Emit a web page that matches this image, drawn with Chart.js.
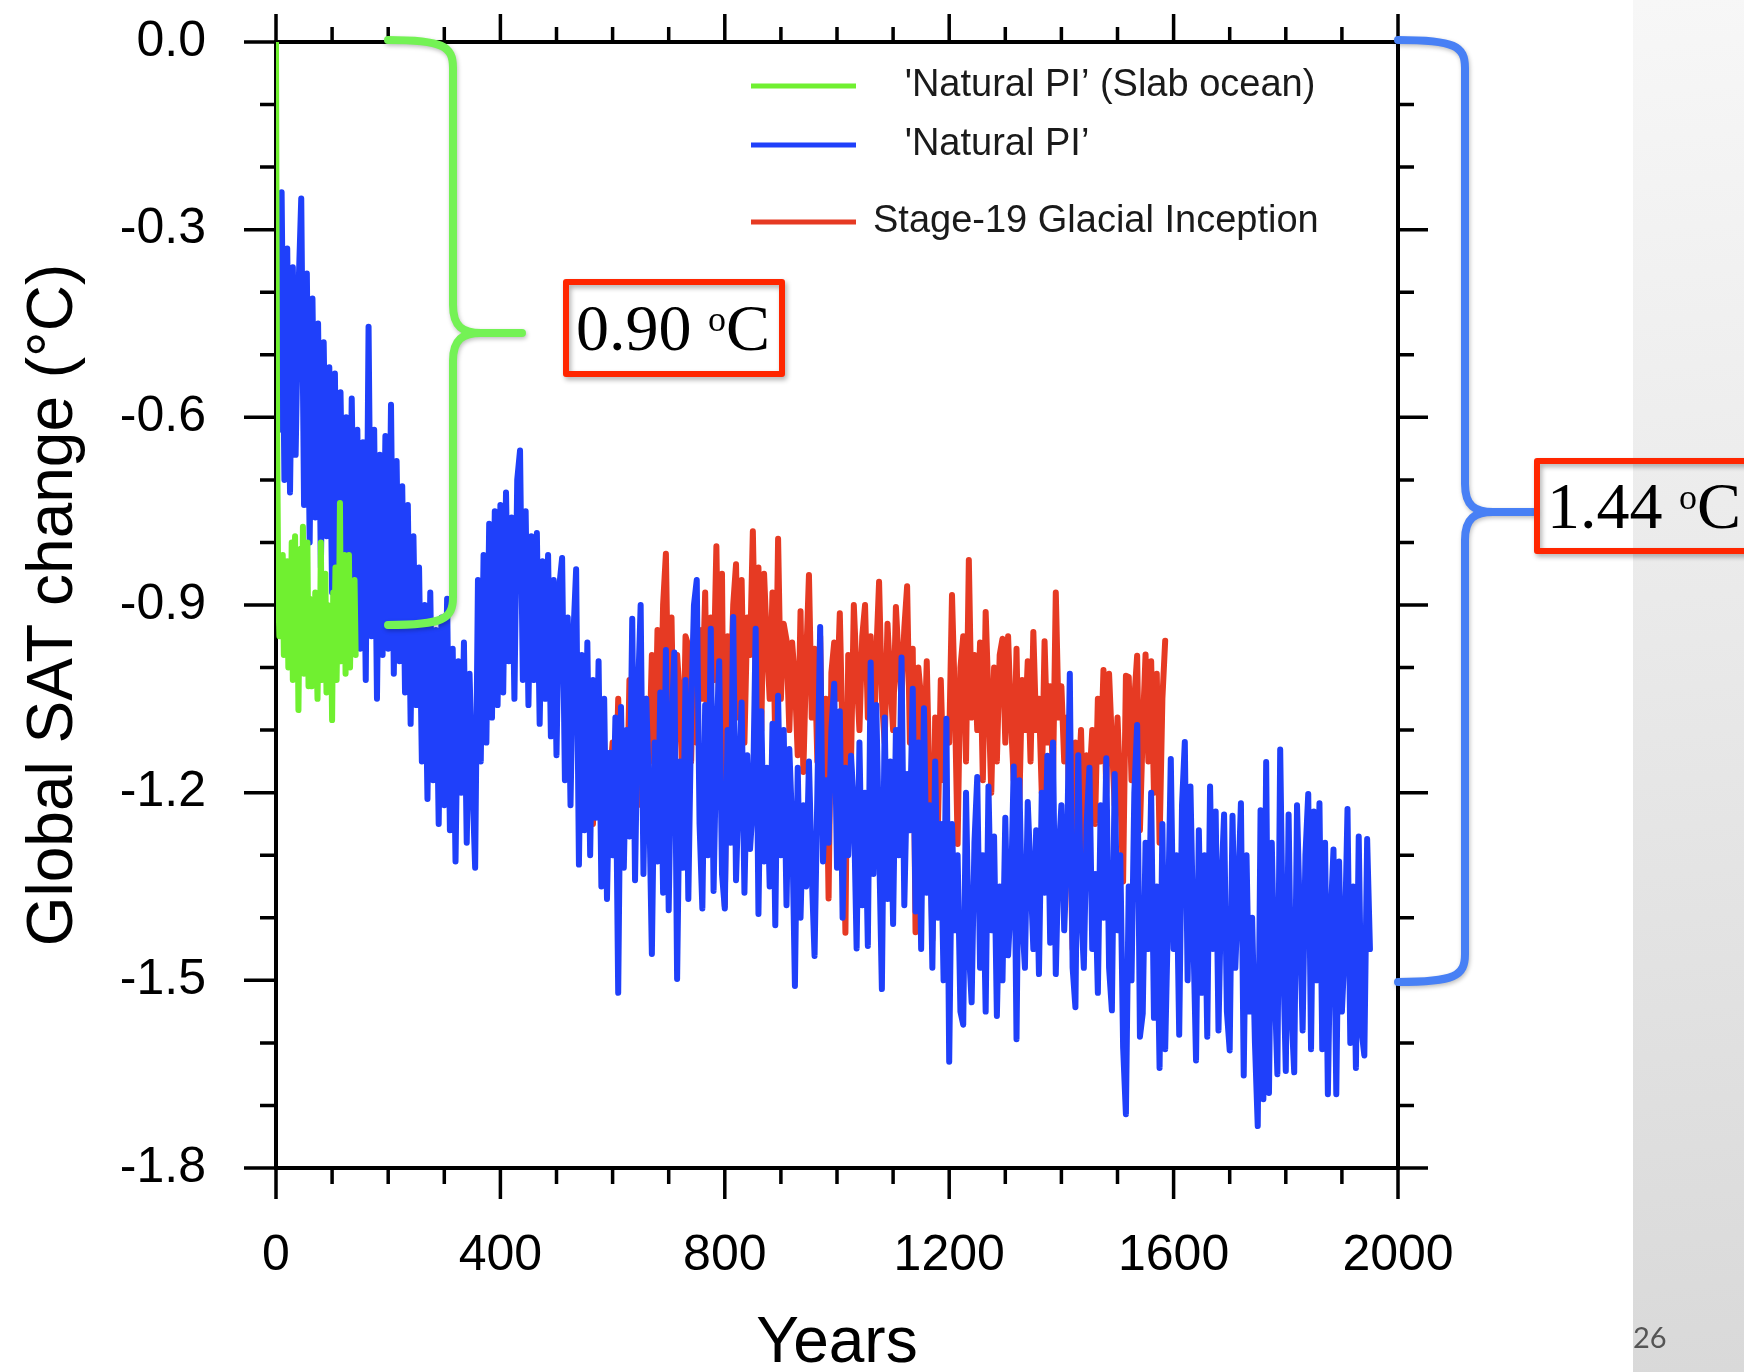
<!DOCTYPE html>
<html>
<head>
<meta charset="utf-8">
<title>Global SAT change</title>
<script src="https://cdn.jsdelivr.net/npm/chart.js@4.4.1/dist/chart.umd.min.js"></script>
<style>
  html, body { margin: 0; padding: 0; background: #fff; }
  canvas { display: block; }
</style>
</head>
<body>
<canvas id="chart" width="1744" height="1372"></canvas>
<script>
// Series names as they appear in the legend (leading spaces kept from the original)
const seriesLabels = ["   'Natural PI’ (Slab ocean)", "   'Natural PI’", 'Stage-19 Glacial Inception'];
const seriesColors = ['#70f030', '#1f40fa', '#e63a23'];

// Axis ticks
const xTickStep = 400;
const xMinorStep = 100;
const yTickStep = 0.3;
const yMinorStep = 0.1;

// 'Natural PI' (Slab ocean): every 2 years from year 0
const GREEN_START = 0, GREEN_STEP = 2;
const greenValues = [
  0.0, -0.62, -0.88, -0.95, -0.84, -0.92, -0.82, -0.98, -0.86, -0.93,
  -0.83, -1.00, -0.88, -0.96, -0.80, -1.02, -0.87, -0.79, -0.99, -0.85,
  -1.068, -0.90, -0.81, -0.97, -0.775, -1.01, -0.86, -0.94, -0.80, -1.03,
  -0.89, -0.97, -1.03, -0.92, -1.00, -0.88, -0.96, -1.05, -0.93, -0.99,
  -0.80, -1.02, -0.91, -0.97, -0.85, -1.04, -0.90, -0.95, -1.00, -0.93,
  -1.084, -0.88, -0.98, -0.84, -1.02, -0.90, -0.95, -0.737, -0.99, -0.86,
  -0.97, -0.82, -1.01, -0.88, -0.94, -0.82, -1.00, -0.87, -0.95, -0.91,
  -0.86, -0.98
];

// 'Natural PI': every 5 years from year 0
const BLUE_START = 0, BLUE_STEP = 5;
const blueValues = [
  -0.45, -0.62, -0.24, -0.70, -0.33, -0.72, -0.36, -0.66, -0.40, -0.25,
  -0.74, -0.37, -0.80, -0.41, -0.76, -0.45, -0.84, -0.48, -0.79, -0.52,
  -0.88, -0.53, -0.91, -0.56, -0.84, -0.60, -0.93, -0.57, -0.89, -0.62,
  -0.97, -0.64, -1.02, -0.455, -0.95, -0.62, -1.05, -0.66, -0.98, -0.63,
  -0.97, -0.58, -1.01, -0.67, -0.99, -0.71, -1.04, -0.74, -1.09, -0.79,
  -1.06, -0.84, -1.15, -0.90, -1.21, -0.88, -1.18, -0.94, -1.25, -0.92,
  -1.22, -0.89, -1.26, -0.97, -1.31, -0.99, -1.20, -0.96, -1.28, -1.01,
  -1.18, -1.32, -0.86, -1.15, -0.82, -1.12, -0.77, -1.08, -0.75, -1.06,
  -0.74, -1.04, -0.72, -0.99, -0.76, -1.05, -0.70, -0.653, -1.02, -0.75,
  -1.06, -0.79, -1.02, -0.785, -1.09, -0.83, -1.05, -0.82, -1.11, -0.86,
  -1.14, -0.87, -0.825, -1.18, -0.92, -1.22, -0.95, -0.843, -1.315, -0.98,
  -1.26, -0.96, -1.30, -1.02, -1.24, -0.99, -1.35, -1.05, -1.37, -1.136,
  -1.30, -1.08, -1.52, -1.063, -1.32, -1.10, -1.27, -0.922, -1.34, -1.05,
  -0.90, -1.33, -1.05, -1.20, -1.458, -1.12, -1.31, -1.04, -1.36, -0.972,
  -1.388, -1.10, -0.976, -1.498, -1.15, -1.32, -1.02, -1.37, -1.08, -0.90,
  -0.86, -1.25, -1.385, -1.06, -1.30, -0.938, -1.357, -1.12, -0.99, -1.33,
  -1.385, -1.10, -1.28, -0.919, -1.34, -1.19, -1.056, -1.36, -1.14, -1.29,
  -1.22, -0.938, -1.394, -1.07, -1.31, -1.16, -1.35, -1.09, -1.412, -1.045,
  -1.30, -1.10, -1.38, -1.13, -1.25, -1.509, -1.16, -1.40, -1.22, -1.35,
  -1.15, -1.33, -1.461, -1.20, -0.935, -1.31, -1.18, -1.28, -1.10, -1.026,
  -1.32, -1.07, -1.40, -1.16, -1.30, -1.141, -1.22, -1.449, -1.12, -1.38,
  -1.20, -1.445, -0.992, -1.33, -1.06, -1.28, -1.514, -1.08, -1.37, -1.15,
  -1.41, -1.10, -1.30, -0.984, -1.38, -1.17, -1.26, -1.034, -1.39, -1.12,
  -1.45, -1.065, -1.36, -1.22, -1.48, -1.15, -1.40, -1.25, -1.50, -1.082,
  -1.63, -1.25, -1.42, -1.30, -1.55, -1.571, -1.20, -1.45, -1.535, -1.28,
  -1.175, -1.48, -1.30, -1.55, -1.19, -1.42, -1.27, -1.557, -1.35, -1.50,
  -1.24, -1.46, -1.37, -1.158, -1.594, -1.18, -1.40, -1.48, -1.215, -1.33,
  -1.45, -1.26, -1.49, -1.20, -1.36, -1.141, -1.44, -1.12, -1.49, -1.30,
  -1.22, -1.42, -1.30, -1.01, -1.48, -1.543, -1.14, -1.38, -1.48, -1.25,
  -1.16, -1.45, -1.33, -1.52, -1.22, -1.40, -1.145, -1.48, -1.548, -1.17,
  -1.42, -1.30, -1.607, -1.714, -1.35, -1.50, -1.20, -1.092, -1.59, -1.553,
  -1.28, -1.45, -1.20, -1.56, -1.35, -1.64, -1.25, -1.61, -1.40, -1.146,
  -1.45, -1.30, -1.587, -1.22, -1.119, -1.50, -1.19, -1.42, -1.628, -1.26,
  -1.52, -1.30, -1.59, -1.19, -1.45, -1.23, -1.58, -1.35, -1.235, -1.55,
  -1.612, -1.237, -1.48, -1.36, -1.217, -1.652, -1.30, -1.55, -1.40, -1.60,
  -1.733, -1.228, -1.69, -1.151, -1.68, -1.28, -1.50, -1.65, -1.131, -1.45,
  -1.645, -1.235, -1.55, -1.647, -1.22, -1.40, -1.58, -1.30, -1.202, -1.61,
  -1.23, -1.50, -1.217, -1.61, -1.28, -1.682, -1.40, -1.291, -1.682, -1.31,
  -1.55, -1.45, -1.226, -1.60, -1.35, -1.64, -1.27, -1.58, -1.62, -1.274,
  -1.45
];

// Stage-19 Glacial Inception: every 5 years from year 550 (hidden under blue before that)
const RED_START = 550, RED_STEP = 5;
const redValues = [
  -1.15, -1.22, -1.10, -1.25, -1.12, -1.20, -1.08, -1.28, -1.14, -1.18,
  -1.12, -1.24, -1.05, -1.20, -1.15, -1.26, -1.02, -1.18, -1.10, -1.22,
  -1.08, -1.20, -1.05, -1.15, -0.98, -1.173, -0.94, -1.12, -0.90, -0.818,
  -1.10, -0.92, -1.18, -0.98, -1.05, -1.20, -0.95, -0.965, -1.15, -0.94,
  -1.12, -0.94, -1.05, -0.88, -1.18, -0.92, -1.02, -0.806, -1.10, -0.85,
  -1.381, -0.95, -1.05, -0.90, -0.835, -1.08, -0.86, -1.12, -0.92, -0.98,
  -0.782, -1.02, -0.84, -1.10, -0.85, -0.96, -1.05, -0.88, -1.12, -0.794,
  -1.05, -0.93, -0.956, -1.10, -0.96, -1.02, -1.14, -0.91, -1.167, -0.99,
  -0.852, -1.08, -0.97, -1.15, -0.95, -1.25, -1.05, -1.369, -1.008, -0.96,
  -1.05, -0.913, -1.12, -1.424, -0.98, -1.15, -0.90, -1.011, -1.10, -0.95,
  -0.90, -1.08, -0.95, -1.15, -0.98, -0.863, -1.05, -1.12, -0.93, -1.02,
  -1.10, -0.903, -0.99, -1.05, -0.937, -0.87, -1.12, -0.97, -1.423, -1.00,
  -1.05, -1.15, -0.99, -1.20, -1.435, -1.08, -1.25, -1.02, -1.18, -1.10,
  -1.12, -0.884, -1.05, -1.282, -1.00, -0.95, -1.15, -0.828, -1.08, -0.98,
  -1.10, -0.96, -1.18, -0.911, -1.05, -1.20, -1.00, -1.15, -0.98, -0.954,
  -1.12, -0.95, -1.08, -1.18, -0.97, -1.22, -1.02, -1.10, -0.99, -1.15,
  -0.943, -1.10, -1.05, -1.20, -0.958, -1.12, -1.03, -1.18, -0.88, -1.08,
  -1.03, -1.15, -1.08, -1.25, -1.45, -1.12, -1.20, -1.10, -1.30, -1.14,
  -1.18, -1.10, -1.25, -1.05, -1.15, -1.004, -1.20, -1.01, -1.12, -1.22,
  -1.08, -1.20, -1.342, -1.013, -1.015, -1.18, -1.05, -0.981, -1.26, -1.10,
  -0.979, -1.15, -0.99, -1.20, -1.01, -1.28, -1.05, -0.957
];

// Bracket labels on the slide
const bracketLabels = ['0.90', '1.44'];

const toPoints = (start, step, values) => values.map((v, i) => ({ x: start + i * step, y: v }));

Chart.defaults.font.family = "'Liberation Sans', Arial, Helvetica, sans-serif";
Chart.defaults.color = '#000';

// White slide with the grey side panel
const slideBackground = {
    id: 'slideBackground',
    beforeDraw(chart) {
        const { ctx, width, height } = chart;
        ctx.save();
        ctx.fillStyle = '#fff';
        ctx.fillRect(0, 0, width, height);
        const g = ctx.createLinearGradient(1633, 0, width, height);
        g.addColorStop(0, '#f7f7f7');
        g.addColorStop(1, '#d9d9d9');
        ctx.fillStyle = g;
        ctx.fillRect(1633, 0, width - 1633, height);
        ctx.restore();
    }
};

// NCL style frame with outward ticks on all four sides
const axisFrame = {
    id: 'axisFrame',
    beforeDatasetsDraw(chart) {
        const { ctx, chartArea: a, scales: { x, y } } = chart;
        ctx.save();
        ctx.strokeStyle = '#000';
        ctx.lineWidth = 4;
        ctx.strokeRect(a.left, a.top, a.right - a.left, a.bottom - a.top);
        ctx.lineWidth = 3.5;
        ctx.beginPath();
        for (let v = x.min; v <= x.max; v += xMinorStep) {
            const px = x.getPixelForValue(v);
            const major = v % xTickStep === 0;
            ctx.moveTo(px, a.bottom);
            ctx.lineTo(px, a.bottom + (major ? 31 : 16));
            ctx.moveTo(px, a.top);
            ctx.lineTo(px, a.top - (major ? 28 : 15));
        }
        const nY = Math.round((y.max - y.min) / yMinorStep);
        const perMajor = Math.round(yTickStep / yMinorStep);
        for (let i = 0; i <= nY; i++) {
            const py = y.getPixelForValue(y.max - i * yMinorStep);
            const major = i % perMajor === 0;
            ctx.moveTo(a.left, py);
            ctx.lineTo(a.left - (major ? 32 : 16), py);
            ctx.moveTo(a.right, py);
            ctx.lineTo(a.right + (major ? 30 : 16), py);
        }
        ctx.stroke();
        ctx.restore();
    }
};

// Legend inside the plot, top right
const legendBlock = {
    id: 'legendBlock',
    afterDatasetsDraw(chart) {
        const { ctx, chartArea: a } = chart;
        const rows = [44, 103, 180];
        ctx.save();
        ctx.font = "38px 'Liberation Sans', Arial, sans-serif";
        ctx.textBaseline = 'middle';
        ctx.fillStyle = '#1a1a1a';
        ctx.lineWidth = 5;
        seriesLabels.forEach((label, i) => {
            const yy = a.top + rows[i];
            ctx.strokeStyle = seriesColors[i];
            ctx.beginPath();
            ctx.moveTo(a.left + 475, yy);
            ctx.lineTo(a.left + 580, yy);
            ctx.stroke();
            ctx.fillText(label, a.left + 597, yy);
        });
        ctx.restore();
    }
};

function drawBrace(ctx, xEnd, xVert, xTip, yTop, yTip, yBottom, color) {
    const r = 28;
    ctx.save();
    ctx.strokeStyle = color;
    ctx.lineWidth = 8;
    ctx.lineCap = 'round';
    ctx.lineJoin = 'round';
    ctx.shadowColor = 'rgba(0,0,0,0.25)';
    ctx.shadowBlur = 4;
    ctx.shadowOffsetX = 1;
    ctx.shadowOffsetY = 2;
    ctx.beginPath();
    ctx.moveTo(xEnd, yTop);
    ctx.bezierCurveTo(xVert - 10, yTop, xVert, yTop + 6, xVert, yTop + r);
    ctx.lineTo(xVert, yTip - r);
    ctx.bezierCurveTo(xVert, yTip - 6, xVert + 10, yTip, xVert + 28, yTip);
    ctx.lineTo(xTip, yTip);
    ctx.moveTo(xVert + 28, yTip);
    ctx.bezierCurveTo(xVert + 10, yTip, xVert, yTip + 6, xVert, yTip + r);
    ctx.lineTo(xVert, yBottom - r);
    ctx.bezierCurveTo(xVert, yBottom - 6, xVert - 10, yBottom, xEnd, yBottom);
    ctx.stroke();
    ctx.restore();
}

function drawDegreeBox(ctx, label, bx, by, bw, bh, tx, baseline) {
    ctx.save();
    ctx.strokeStyle = '#ff2600';
    ctx.lineWidth = 6;
    ctx.lineJoin = 'round';
    ctx.shadowColor = 'rgba(0,0,0,0.3)';
    ctx.shadowBlur = 5;
    ctx.shadowOffsetX = 2;
    ctx.shadowOffsetY = 3;
    ctx.strokeRect(bx, by, bw, bh);
    ctx.restore();

    ctx.save();
    ctx.fillStyle = '#000';
    ctx.textBaseline = 'alphabetic';
    const big = "66px 'Liberation Serif', 'Times New Roman', serif";
    const small = "36px 'Liberation Serif', 'Times New Roman', serif";
    ctx.font = big;
    ctx.fillText(label + ' ', tx, baseline);
    let cx = tx + ctx.measureText(label + ' ').width;
    ctx.font = small;
    ctx.fillText('o', cx, baseline - 19);
    cx += ctx.measureText('o').width;
    ctx.font = big;
    ctx.fillText('C', cx, baseline);
    ctx.restore();
}

// Slide annotations: braces, boxed differences and the page number
const slideNotes = {
    id: 'slideNotes',
    afterDraw(chart) {
        const { ctx } = chart;
        drawBrace(ctx, 388, 453, 522, 40, 333, 625, '#74f255');
        drawBrace(ctx, 1398, 1465, 1533, 40, 512, 982, '#4880f5');
        drawDegreeBox(ctx, bracketLabels[0], 566, 282, 216, 92, 576, 350);
        drawDegreeBox(ctx, bracketLabels[1], 1537, 461, 230, 90, 1547, 528);
        ctx.save();
        ctx.fillStyle = '#555';
        ctx.font = "29px Lato, 'Open Sans', sans-serif";
        ctx.textBaseline = 'alphabetic';
        ctx.fillText('26', 1633, 1348);
        ctx.restore();
    }
};

const lineStyle = (i, values, start, step) => ({
    label: seriesLabels[i],
    data: toPoints(start, step, values),
    borderColor: seriesColors[i],
    backgroundColor: seriesColors[i],
    borderWidth: 6,
    pointRadius: 0,
    tension: 0,
    fill: false,
    borderCapStyle: 'round',
    borderJoinStyle: 'round'
});

new Chart(document.getElementById('chart'), {
    type: 'line',
    data: {
        // first dataset is drawn on top: green over blue over red
        datasets: [
            lineStyle(0, greenValues, GREEN_START, GREEN_STEP),
            lineStyle(1, blueValues, BLUE_START, BLUE_STEP),
            lineStyle(2, redValues, RED_START, RED_STEP)
        ]
    },
    options: {
        responsive: false,
        animation: false,
        devicePixelRatio: 1,
        events: [],
        layout: { padding: { left: 0, top: 42, right: 346, bottom: 0 } },
        plugins: {
            legend: { display: false },
            tooltip: { enabled: false }
        },
        scales: {
            x: {
                type: 'linear',
                min: 0,
                max: 2000,
                grid: { display: false, drawTicks: false },
                border: { display: false },
                ticks: { stepSize: xTickStep, padding: 58, maxRotation: 0, autoSkip: false, font: { size: 50 }, color: '#000', callback: v => String(v) },
                title: { display: true, text: 'Years', color: '#000', font: { size: 64, lineHeight: 0.875 }, padding: 0 },
                afterFit: s => { s.height = 204; s.paddingLeft = 0; s.paddingRight = 0; }
            },
            y: {
                type: 'linear',
                min: -1.8,
                max: 0,
                grid: { display: false, drawTicks: false },
                border: { display: false },
                ticks: { stepSize: yTickStep, padding: 70, font: { size: 50 }, color: '#000', callback: v => v.toFixed(1) },
                title: { display: true, text: 'Global SAT change (°C)', color: '#000', font: { size: 64, lineHeight: 0.875 }, padding: { top: 26, bottom: 0 } },
                afterFit: s => { s.width = 276; s.paddingTop = 0; s.paddingBottom = 0; }
            }
        }
    },
    plugins: [slideBackground, axisFrame, legendBlock, slideNotes]
});
</script>
</body>
</html>
